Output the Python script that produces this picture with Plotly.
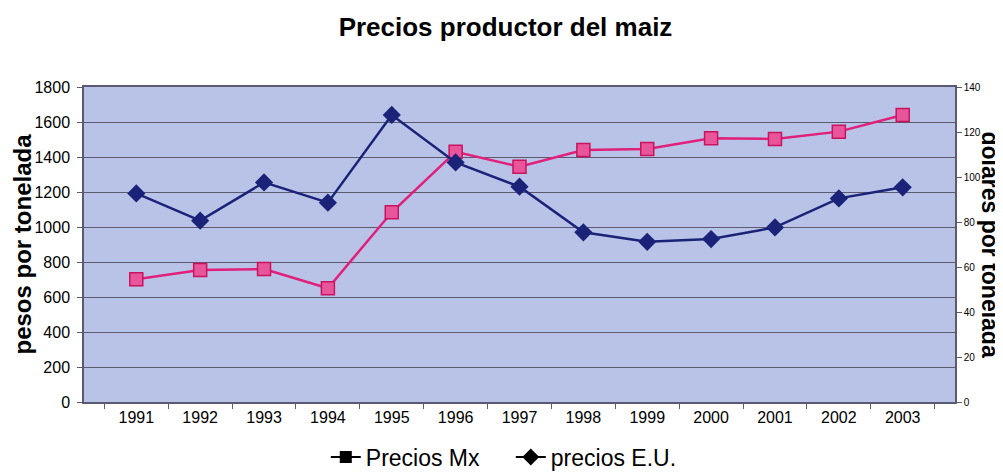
import plotly.graph_objects as go

YEARS = ["1991", "1992", "1993", "1994", "1995", "1996", "1997",
         "1998", "1999", "2000", "2001", "2002", "2003"]
PRECIOS_MX = [701, 754, 760, 650, 1084, 1430, 1345, 1440, 1446, 1507, 1503, 1545, 1640]
PRECIOS_EU = [92.7, 80.6, 97.6, 88.6, 127.6, 106.5, 95.7, 75.4, 71.2, 72.4, 77.6, 90.5, 95.4]

FONT = "Arial, Liberation Sans, sans-serif"
PINK = "#E0207A"
NAVY = "#1A2377"
GRID = "#5A5A70"

# page body keeps its default 8px margin, so the figure is 8px smaller each way
W, H = 995, 465

fig = go.Figure()
fig.add_trace(go.Scatter(
    x=YEARS, y=PRECIOS_MX, name="Precios Mx", mode="lines+markers",
    line=dict(color=PINK, width=2.5),
    marker=dict(symbol="square", size=13, color="#E8559A", line=dict(color="#C8145E", width=1.5)),
    showlegend=False,
))
fig.add_trace(go.Scatter(
    x=YEARS, y=PRECIOS_EU, name="precios E.U.", mode="lines+markers", yaxis="y2",
    line=dict(color=NAVY, width=2.5),
    marker=dict(symbol="diamond", size=14, color=NAVY),
    showlegend=False,
))
# legend entries are drawn in black like the original
fig.add_trace(go.Scatter(
    x=[None], y=[None], name="Precios Mx", mode="lines+markers",
    line=dict(color="black", width=2), marker=dict(symbol="square", size=12, color="black"),
))
fig.add_trace(go.Scatter(
    x=[None], y=[None], name="precios E.U.", mode="lines+markers",
    line=dict(color="black", width=2), marker=dict(symbol="diamond", size=13, color="black"),
))

fig.update_layout(
    width=W, height=H,
    paper_bgcolor="white", plot_bgcolor="#B9C3E8",
    font=dict(family=FONT, color="black"),
    margin=dict(l=76, r=48, t=79, b=71, autoexpand=False),
    title=dict(text="<b>Precios productor del maiz</b>", x=0.5, xanchor="center",
               y=1 - 19 / H, yanchor="middle", yref="container", font=dict(size=26)),
    xaxis=dict(type="category", tickson="boundaries", ticks="outside", ticklen=5,
               tickcolor=GRID, showline=True, linecolor=GRID, linewidth=1.5, mirror=True,
               showgrid=False, tickfont=dict(size=16), automargin=False),
    yaxis=dict(range=[0, 1800], dtick=200, ticks="outside", ticklen=5, tickcolor=GRID,
               showgrid=True, gridcolor=GRID, gridwidth=1, showline=True, linecolor=GRID,
               linewidth=1.5, tickfont=dict(size=16), zeroline=False, automargin=False,
               ticklabelstandoff=4),
    yaxis2=dict(range=[0, 140], dtick=20, overlaying="y", side="right", ticks="outside",
                ticklen=5, tickcolor=GRID, showgrid=False, showline=True, linecolor=GRID,
                linewidth=1.5, tickfont=dict(size=10), zeroline=False, automargin=False),
    legend=dict(orientation="h", x=0.49, xanchor="center", yref="container",
                y=1 - 449 / H, yanchor="middle", entrywidth=140, entrywidthmode="pixels",
                font=dict(size=23), bgcolor="rgba(0,0,0,0)"),
    annotations=[
        dict(text="<b>pesos por tonelada</b>", xref="paper", yref="paper", x=0, y=0.5,
             xanchor="center", yanchor="middle", xshift=-62, textangle=-90,
             showarrow=False, font=dict(size=24)),
        dict(text="<b>dòlares por tonelada</b>", xref="paper", yref="paper", x=1, y=0.5,
             xanchor="center", yanchor="middle", xshift=35, textangle=90,
             showarrow=False, font=dict(size=23)),
    ],
)

fig.write_html("out.html")
